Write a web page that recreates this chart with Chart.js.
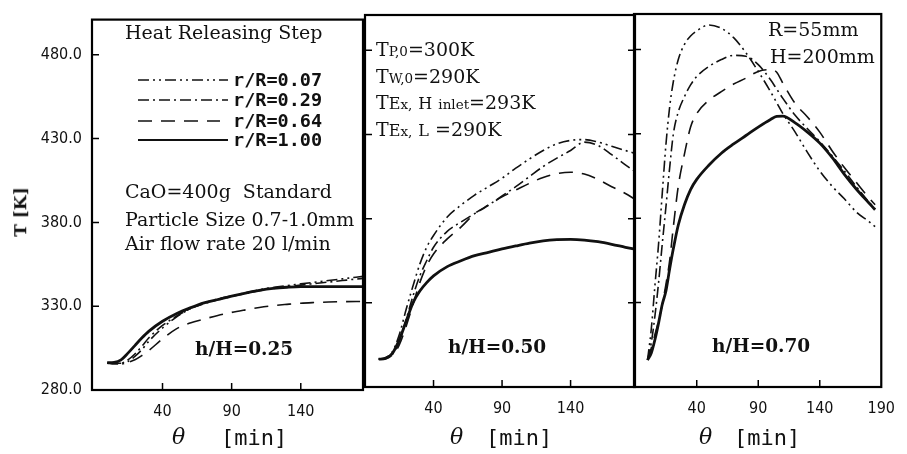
<!DOCTYPE html>
<html>
<head>
<meta charset="utf-8">
<script src="https://cdn.jsdelivr.net/npm/chart.js@4"></script>
<style>
  html, body { margin: 0; padding: 0; background: #fff; }
  #wrap { position: relative; width: 907px; height: 454px; overflow: hidden; }
  #wrap canvas { position: absolute; left: 0; top: 0; }
  .t { position: absolute; white-space: nowrap; font-family: 'DejaVu Serif', serif; font-size: 19px; line-height: 1; color: #111; }
  .s { font-size: 13.5px; }
  .m { font-size: 16px; }
  .hh { font-weight: bold; font-size: 18.5px; }
  .xt { position: absolute; white-space: nowrap; line-height: 1; color: #111; }
  .th { font-family: 'DejaVu Serif', serif; font-style: italic; font-size: 22px; }
  .mn { font-family: 'DejaVu Sans Mono', monospace; font-size: 22px; }
  #legend { position: absolute; left: 136px; top: 70px; }
  #legend .row { position: absolute; left: 0; height: 20px; width: 200px; }
  #legend svg { position: absolute; left: 0; top: 0; }
  #legend span { position: absolute; left: 97px; top: 1px; font-family: 'DejaVu Sans Mono', monospace; font-weight: bold; font-size: 18.5px; line-height: 1; color: #111; }
</style>
</head>
<body>
<div id="wrap">
  <canvas id="c1" width="907" height="454"></canvas>
  <canvas id="c2" width="907" height="454"></canvas>
  <canvas id="c3" width="907" height="454"></canvas>

  <div class="t" style="left:-4px;top:212px;transform:translate(0,-50%) rotate(-90deg);transform-origin:center;font-weight:bold;font-size:17px;">T [K]</div>

  <div class="t" style="left:125px;top:23px;">Heat Releasing Step</div>
  <div id="legend"></div>
  <div class="t" style="left:125px;top:182px;">CaO=400g&nbsp; Standard</div>
  <div class="t" style="left:125px;top:210px;">Particle Size 0.7-1.0mm</div>
  <div class="t" style="left:125px;top:234px;">Air flow rate 20 l/min</div>
  <div class="t hh" style="left:195px;top:340px;">h/H=0.25</div>

  <div class="t" style="left:376px;top:40px;">T<span class="s">P,0</span>=300K</div>
  <div class="t" style="left:376px;top:67px;">T<span class="s">W,0</span>=290K</div>
  <div class="t" style="left:376px;top:93px;">T<span class="m">E</span><span class="s">x,</span> <span class="m">H</span> <span class="s">inlet</span>=293K</div>
  <div class="t" style="left:376px;top:120px;">T<span class="m">E</span><span class="s">x,</span> <span class="m">L</span> =290K</div>
  <div class="t hh" style="left:448px;top:338px;">h/H=0.50</div>

  <div class="t" style="left:768px;top:20px;">R=55mm</div>
  <div class="t" style="left:770px;top:47px;">H=200mm</div>
  <div class="t hh" style="left:712px;top:337px;">h/H=0.70</div>

  <div class="xt" style="left:172px;top:426px;"><span class="th">θ</span></div>
  <div class="xt" style="left:221px;top:427px;"><span class="mn">[min]</span></div>
  <div class="xt" style="left:450px;top:426px;"><span class="th">θ</span></div>
  <div class="xt" style="left:486px;top:427px;"><span class="mn">[min]</span></div>
  <div class="xt" style="left:699px;top:426px;"><span class="th">θ</span></div>
  <div class="xt" style="left:734px;top:427px;"><span class="mn">[min]</span></div>
</div>

<script>
// series names, in legend order
const seriesLabels = ['r/R=0.07', 'r/R=0.29', 'r/R=0.64', 'r/R=1.00'];

// axis ticks
const yTickValues = [280, 330, 380, 430, 480];
const xTickValues = [40, 90, 140, 190];

// h/H = 0.25
const thetaP1 = [0, 5, 10, 15, 20, 25, 30, 40, 50, 60, 70, 80, 90, 100, 110, 120, 130, 140, 150, 160, 170, 180, 185];
const p1R007 = [296, 295.5, 295.5, 297, 300, 304, 309, 317, 323.5, 328.5, 332, 334.3, 336.2, 338, 339.8, 341.2, 342.3, 343.3, 344.3, 345.3, 346.3, 347.3, 347.8];
const p1R029 = [296, 296, 296, 298, 301.5, 306, 311, 318.5, 324, 328.5, 331.5, 333.8, 335.8, 337.5, 339.2, 340.6, 341.6, 342.6, 343.5, 344.4, 345.3, 346.2, 346.6];
const p1R064 = [296, 296, 296, 296.5, 298, 300.5, 303.5, 310.5, 316.5, 320, 322.3, 324.5, 326.3, 327.8, 329.2, 330.3, 331.1, 331.8, 332.2, 332.5, 332.7, 332.8, 332.8];
const p1R100 = [296.3, 296.5, 298, 302, 306.5, 311, 315, 321, 325.5, 329, 332, 334, 336, 337.8, 339.4, 340.6, 341.3, 341.7, 341.7, 341.7, 341.7, 341.7, 341.7];

// h/H = 0.50
const thetaP2 = [0, 5, 10, 15, 20, 25, 30, 35, 40, 50, 60, 70, 80, 90, 100, 110, 120, 130, 140, 150, 160, 170, 180, 186];
const p2R007 = [296.5, 297.5, 301, 311, 326, 340, 353, 363, 370, 381, 388, 394, 399, 404, 410, 415.5, 420.5, 424.5, 426.5, 427, 425.5, 423, 420.5, 419];
const p2R029 = [296.5, 297, 299.5, 307, 320, 334, 346, 355, 363, 372.5, 378, 383, 388, 393.5, 399, 405, 411, 416, 420.5, 425.5, 423.5, 418, 412, 408.5];
const p2R064 = [296.5, 297, 299, 305, 316, 329, 342, 352, 359, 368, 375, 383, 388, 393, 397, 401, 404.5, 406.8, 407.6, 406.5, 403.3, 399, 395, 392];
const p2R100 = [296.5, 297, 300, 308, 319, 330, 337, 342, 346, 351.5, 355, 358, 360, 362, 363.8, 365.5, 366.8, 367.5, 367.7, 367.3, 366.3, 364.8, 363, 362];

// h/H = 0.70
const thetaP3 = [0, 3, 6, 9, 12, 15, 18, 21, 25, 30, 35, 40, 50, 60, 70, 80, 90, 100, 105, 110, 120, 130, 140, 150, 160, 170, 180, 185];
const p3R007 = [296, 314, 340, 365, 395, 424, 446, 461, 474, 483, 488, 491, 494.5, 492.5, 487, 478, 467, 455, 448.5, 442, 431, 419, 408, 399, 391.5, 383.5, 378, 375];
const p3R029 = [296, 306, 322, 342, 365, 387, 410, 430, 443, 452, 459, 464, 470, 474, 476.5, 476, 471, 462, 456.5, 451, 441, 433, 425.5, 417, 408, 398.5, 389.5, 385.5];
const p3R064 = [296, 303, 311, 319, 329, 341, 355, 375, 399, 418, 434, 442, 450, 455, 459.5, 463, 467, 468, 466.5, 460, 448, 440, 431, 420, 410, 401, 392, 388];
const p3R100 = [296, 300, 308, 318, 329, 337, 350, 362, 376, 388, 397, 403, 411.5, 418.5, 424, 429, 434, 438.5, 440.3, 440.5, 436.5, 431, 424.5, 416, 406, 397, 389, 385];

const dashes = [[11, 4, 2, 4, 2, 4], [11, 4, 2, 4], [14, 9], []];
const widths = [1.6, 1.6, 1.6, 2.8];
const tickFont = "'Liberation Sans Narrow', 'DejaVu Sans Condensed', 'Roboto Condensed', 'Liberation Sans', sans-serif";

function makeSets(theta, lists) {
  return lists.map((vals, i) => ({
    label: seriesLabels[i],
    data: theta.map((t, j) => ({ x: t, y: vals[j] })),
    borderColor: '#111',
    borderWidth: widths[i],
    borderDash: dashes[i],
    pointRadius: 0,
    fill: false,
    cubicInterpolationMode: 'monotone'
  }));
}

// box round the plot plus the small inward ticks
const framePlugin = {
  id: 'frame',
  afterDraw(chart, args, opts) {
    const ctx = chart.ctx;
    const a = chart.chartArea;
    const x = chart.scales.x, y = chart.scales.y;
    ctx.save();
    ctx.strokeStyle = '#000';
    ctx.lineWidth = 1.5;
    ctx.beginPath();
    yTickValues.slice(1).forEach(v => {
      const py = y.getPixelForValue(v);
      if (opts.left) { ctx.moveTo(a.left, py); ctx.lineTo(a.left + 7, py); }
      if (opts.right) { ctx.moveTo(a.right, py); ctx.lineTo(a.right - 7, py); }
    });
    xTickValues.forEach(v => {
      const px = x.getPixelForValue(v);
      if (px < a.right - 3) { ctx.moveTo(px, a.bottom); ctx.lineTo(px, a.bottom - 7); }
    });
    ctx.stroke();
    ctx.lineWidth = 2.2;
    ctx.strokeRect(a.left, a.top, a.right - a.left, a.bottom - a.top);
    ctx.restore();
  }
};

function makeChart(id, theta, lists, o) {
  return new Chart(document.getElementById(id), {
    type: 'line',
    data: { datasets: makeSets(theta, lists) },
    options: {
      responsive: false,
      animation: false,
      devicePixelRatio: 1,
      layout: { padding: o.padding },
      plugins: {
        legend: { display: false },
        tooltip: { enabled: false },
        frame: { left: true, right: o.rightTicks }
      },
      scales: {
        x: {
          type: 'linear',
          min: o.xmin,
          max: o.xmax,
          grid: { display: false, drawTicks: false },
          border: { display: false },
          afterBuildTicks: s => { s.ticks = xTickValues.filter(v => v <= o.xmax).map(v => ({ value: v })); },
          afterFit: s => { s.height = o.xh; },
          ticks: {
            padding: 12,
            color: '#111',
            font: { family: tickFont, size: 16 },
            callback: v => String(v)
          }
        },
        y: {
          display: o.yLabels,
          min: 280,
          max: 501,
          grid: { display: false, drawTicks: false },
          border: { display: false },
          afterBuildTicks: s => { s.ticks = yTickValues.map(v => ({ value: v })); },
          afterFit: s => { s.width = o.yLabels ? 92 : 0; },
          ticks: {
            padding: 10,
            color: '#111',
            font: { family: tickFont, size: 16 },
            callback: v => v.toFixed(1)
          }
        }
      }
    },
    plugins: [framePlugin]
  });
}

const chart1 = makeChart('c1', thetaP1, [p1R007, p1R029, p1R064, p1R100], {
  padding: { left: 0, right: 544, top: 17, bottom: 0 }, xmin: -11, xmax: 185, xh: 64, yLabels: true, rightTicks: false
});
makeChart('c2', thetaP2, [p2R007, p2R029, p2R064, p2R100], {
  padding: { left: 365, right: 272, top: 15, bottom: 0 }, xmin: -10, xmax: 187, xh: 67, yLabels: false, rightTicks: true
});
makeChart('c3', thetaP3, [p3R007, p3R029, p3R064, p3R100], {
  padding: { left: 634, right: 15, top: 14, bottom: 0 }, xmin: -11, xmax: 190, xh: 67, yLabels: false, rightTicks: false
});

// legend taken from the first panel's datasets
const legend = document.getElementById('legend');
const rowTops = [0, 20, 41, 60];
const lineEnds = [92, 92, 84, 92];
chart1.data.datasets.forEach((ds, i) => {
  const row = document.createElement('div');
  row.className = 'row';
  row.style.top = rowTops[i] + 'px';
  const w = Math.min(ds.borderWidth, 1.8);
  row.innerHTML =
    '<svg width="96" height="20"><line x1="2" y1="10" x2="' + lineEnds[i] + '" y2="10" stroke="#111" stroke-width="' + w +
    '" stroke-dasharray="' + (ds.borderDash.length ? ds.borderDash.join(' ') : 'none') + '"/></svg>' +
    '<span>' + ds.label + '</span>';
  legend.appendChild(row);
});
</script>
</body>
</html>
